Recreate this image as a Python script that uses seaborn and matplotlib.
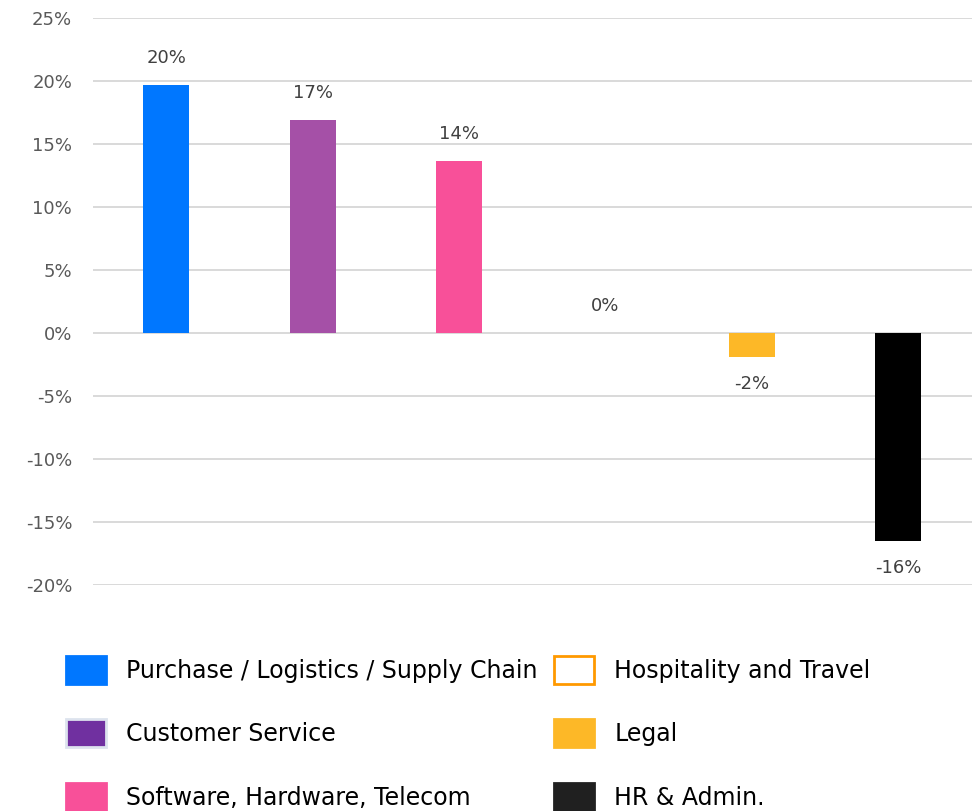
import pandas as pd
import seaborn as sns
import matplotlib
matplotlib.use("Agg")
import matplotlib.pyplot as plt
from matplotlib.patches import Patch
from matplotlib.ticker import FuncFormatter

sns.set_style("white")
plt.rcParams["font.family"] = ["DejaVu Sans"]

categories = ["Purchase / Logistics / Supply Chain", "Customer Service",
              "Software, Hardware, Telecom", "Hospitality and Travel",
              "Legal", "HR & Admin."]
values = [19.7, 16.9, 13.6, 0.0, -1.9, -16.5]
bar_colors = ["#0077FF", "#A550A7", "#F85099", "#FFFFFF", "#FDB827", "#000000"]
legend_colors = ["#0077FF", "#7030A0", "#F85099", "#FFFFFF", "#FDB827", "#202020"]
legend_edges = ["#0077FF", "#DDE3EE", "#F85099", "#FF9900", "#FDB827", "#202020"]
yticks = [-20, -15, -10, -5, 0, 5, 10, 15, 20, 25]


def plot_data(df):
    fig = plt.figure(figsize=(9.74, 8.11), dpi=100)
    ax = fig.add_axes([0.0955, 0.279, 0.902, 0.699])

    sns.barplot(data=df, x="category", y="value", hue="category",
                palette=dict(zip(categories, bar_colors)), order=categories,
                width=0.315, legend=False, ax=ax, saturation=1, linewidth=0)

    ax.set_ylim(-20, 25)
    ax.set_xlim(-0.5, 5.5)
    ax.set_yticks(yticks)
    ax.yaxis.set_major_formatter(FuncFormatter(lambda v, p: f"{v:.0f}%"))
    ax.tick_params(axis="y", length=0, labelsize=13, labelcolor="#595959", pad=15)
    ax.set_xticks([])
    ax.set_xlabel("")
    ax.set_ylabel("")
    ax.grid(axis="y", color="#D9D9D9", linewidth=1.4)
    ax.set_axisbelow(True)
    for s in ax.spines.values():
        s.set_visible(False)

    for cont in ax.containers:
        labels = [f"{b.get_height():.0f}%" for b in cont]
        labels = [l if l != "-0%" else "0%" for l in labels]
        ax.bar_label(cont, labels=labels, padding=13, fontsize=13, color="#404040")

    handles = [Patch(facecolor=c, edgecolor=e, linewidth=2, label=l)
               for c, e, l in zip(legend_colors, legend_edges, categories)]
    kw = dict(frameon=False, fontsize=17, handlelength=1.7, handleheight=1.45,
              handletextpad=0.85, labelspacing=1.5, loc="upper left",
              borderaxespad=0, borderpad=0, labelcolor="black")
    fig.legend(handles=handles[:3], bbox_to_anchor=(66 / 974, 1 - 656 / 811), **kw)
    fig.legend(handles=handles[3:], bbox_to_anchor=(554 / 974, 1 - 656 / 811), **kw)

    fig.savefig("out.png", dpi=100)


def main():
    df = pd.DataFrame({"category": categories, "value": values})
    plot_data(df)


if __name__ == "__main__":
    main()
